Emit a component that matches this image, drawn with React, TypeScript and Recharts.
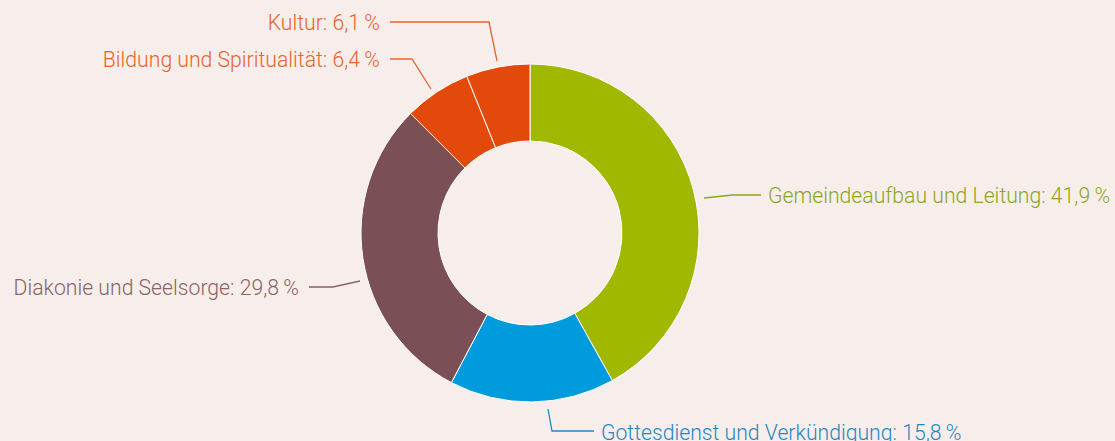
import React from 'react';
import { PieChart, Pie, Cell } from 'recharts';

const categories = [
  'Gemeindeaufbau und Leitung',
  'Gottesdienst und Verkündigung',
  'Diakonie und Seelsorge',
  'Bildung und Spiritualität',
  'Kultur',
];
const shares = [41.9, 15.8, 29.8, 6.4, 6.1];
const valueLabels = ['41,9', '15,8', '29,8', '6,4', '6,1'];

const sliceColors = ['#a0b800', '#009bdc', '#7a4f55', '#e3490a', '#e3490a'];
const textColors = ['#8aa623', '#1f86c6', '#8a6268', '#e8642a', '#e8642a'];

// leader line layout, offsets relative to pie centre
const LABEL_LAYOUT = [
  { pts: [[174, -35], [203, -38], [231, -38]], tx: 238, ty: -38, anchor: 'start' },
  { pts: [[18, 176], [22, 198], [64, 198]], tx: 71, ty: 199, anchor: 'start' },
  { pts: [[-170, 48], [-197, 54], [-221, 54]], tx: -231, ty: 54, anchor: 'end' },
  { pts: [[-99, -144], [-118, -174], [-140, -174]], tx: -150, ty: -174, anchor: 'end' },
  { pts: [[-33, -172], [-41, -211], [-140, -211]], tx: -150, ty: -211, anchor: 'end' },
];

const data = categories.map((name, i) => ({ name, value: shares[i], label: valueLabels[i] }));

const BG = '#f7eeec';

const renderLabel = (props: any) => {
  const { cx, cy, index } = props;
  const lay = LABEL_LAYOUT[index];
  const pts = lay.pts.map(([x, y]) => `${cx + x},${cy + y}`).join(' ');
  return (
    <g key={`lbl-${index}`}>
      <polyline points={pts} fill="none" stroke={textColors[index]} strokeWidth={1.3} />
      <text
        x={cx + lay.tx}
        y={cy + lay.ty}
        textAnchor={lay.anchor as any}
        dominantBaseline="central"
        fill={textColors[index]}
        fontFamily="Roboto, 'Liberation Sans', sans-serif"
        fontWeight={300}
        fontSize={21.2}
      >
        {`${categories[index]}: ${valueLabels[index]}\u2009%`}
      </text>
    </g>
  );
};

export default function App() {
  return (
    <div style={{ position: 'absolute', left: 0, top: 0, width: 1115, height: 441, background: BG }}>
      <PieChart width={1115} height={441} margin={{ top: 0, right: 0, bottom: 0, left: 0 }}>
        <Pie
          data={data}
          dataKey="value"
          nameKey="name"
          cx={530}
          cy={233}
          innerRadius={92}
          outerRadius={169}
          startAngle={90}
          endAngle={-270}
          stroke="#ffffff"
          strokeWidth={1}
          label={renderLabel}
          labelLine={false}
          isAnimationActive={false}
        >
          {data.map((d, i) => (
            <Cell key={d.name} fill={sliceColors[i]} />
          ))}
        </Pie>
      </PieChart>
    </div>
  );
}
